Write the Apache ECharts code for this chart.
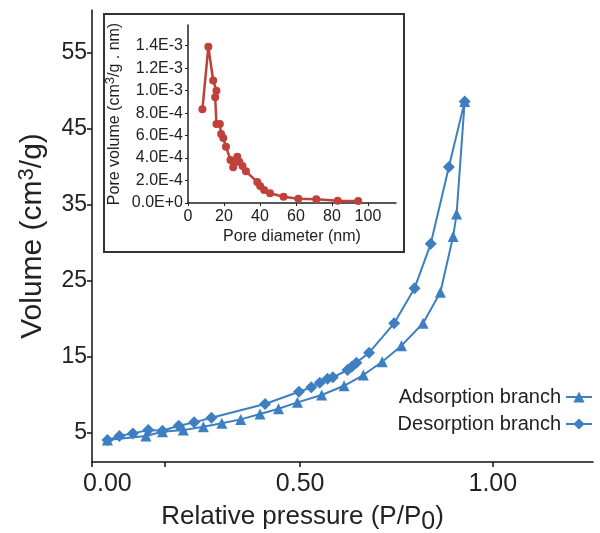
<!DOCTYPE html>
<html>
<head>
<meta charset="utf-8">
<script src="https://cdn.jsdelivr.net/npm/echarts@6/dist/echarts.min.js"></script>
<style>
  html, body { margin: 0; padding: 0; background: #fff; }
  #chart { width: 600px; height: 533px; }
</style>
</head>
<body>
<div id="chart"></div>
<script>
// 吸附/脱附等温线 (P/P0, cm3/g)
var adsPressure = [0.00, 0.100, 0.143, 0.197, 0.249, 0.297, 0.346, 0.396, 0.444, 0.493,
    0.556, 0.614, 0.664, 0.713, 0.763, 0.819, 0.864, 0.897, 0.906, 0.927];
var adsVolume = [4.08, 4.61, 5.17, 5.39, 5.83, 6.28, 6.80, 7.50, 8.20, 9.04,
    10.00, 11.22, 12.63, 14.38, 16.49, 19.43, 23.51, 30.83, 33.78, 48.59];

var desPressure = [0.00, 0.031, 0.066, 0.106, 0.143, 0.185, 0.225, 0.270, 0.409, 0.497,
    0.529, 0.551, 0.571, 0.585, 0.623, 0.634, 0.646, 0.679, 0.744, 0.797, 0.839, 0.886, 0.927];
var desVolume = [4.08, 4.61, 4.96, 5.39, 5.30, 5.96, 6.41, 7.01, 8.82, 10.43,
    11.01, 11.62, 12.14, 12.33, 13.29, 13.72, 14.25, 15.57, 19.43, 24.04, 29.87, 39.97, 48.59];

// 孔径分布 (nm, cm3/g.nm)
var poreDiameter = [8.0, 11.3, 14.0, 15.8, 15.1, 15.8, 17.7, 18.4, 19.6, 21.1, 23.6, 25.1, 26.6,
    27.4, 28.5, 30.3, 32.2, 38.5, 40.1, 42.3, 45.6, 53.1, 61.3, 71.3, 83.2, 94.6];
var poreVolume = [8.34e-4, 13.9e-4, 10.9e-4, 9.99e-4, 9.40e-4, 7.03e-4, 7.03e-4, 6.14e-4, 5.78e-4,
    5.01e-4, 3.83e-4, 3.18e-4, 3.67e-4, 4.12e-4, 3.67e-4, 3.29e-4, 2.82e-4, 1.87e-4, 1.51e-4,
    1.16e-4, 0.86e-4, 0.56e-4, 0.38e-4, 0.33e-4, 0.20e-4, 0.18e-4];

// 刻度
var mainXTicks = [-0.04, 0.15, 0.5, 1.0];
var mainXLabels = [0, 0.5, 1.0];
var mainYTicks = [5, 15, 25, 35, 45, 55];

var blue = '#3d7fc1';
var red = '#c0403b';
var font = 'Liberation Sans, Arial, sans-serif';

function zip(xs, ys) {
    var out = [];
    for (var i = 0; i < xs.length; i++) {
        out.push([xs[i], ys[i]]);
    }
    return out;
}

var chart = echarts.init(document.getElementById('chart'));
var option = {
    animation: false,
    textStyle: { fontFamily: font },
    legend: {
        orient: 'vertical',
        align: 'right',
        right: 2,
        top: 382,
        itemWidth: 26,
        itemHeight: 14,
        itemGap: 7,
        textStyle: { fontSize: 20, color: '#222', fontFamily: font },
        data: ['Adsorption branch', 'Desorption branch']
    },
    graphic: [{
        type: 'rect',
        z: 0,
        shape: { x: 104, y: 14, width: 300, height: 238 },
        style: { fill: '#fff', stroke: '#333', lineWidth: 2 }
    }],
    grid: [
        { left: 92, right: 7, top: 10, bottom: 71, outerBoundsMode: 'none', containLabel: false },
        { left: 188, right: 204, top: 25, bottom: 330, z: 5, outerBoundsMode: 'none', containLabel: false }
    ],
    xAxis: [{
        gridIndex: 0,
        type: 'value',
        min: -0.04,
        max: 1.26,
        splitLine: { show: false },
        axisLine: { onZero: false, lineStyle: { color: '#111', width: 1.5 } },
        axisTick: { length: 5, customValues: mainXTicks, lineStyle: { color: '#111', width: 1.5 } },
        axisLabel: {
            customValues: mainXLabels,
            fontSize: 25, color: '#222', margin: 10,
            formatter: function (v) { return v.toFixed(2); }
        },
        name: 'Relative pressure (P/P{sub|0})',
        nameLocation: 'middle',
        nameGap: 37,
        nameTextStyle: {
            fontSize: 26, color: '#222', padding: [0, 80, 0, 0],
            rich: { sub: { fontSize: 25, color: '#222', padding: [11, 0, 0, 0] } }
        }
    }, {
        gridIndex: 1,
        type: 'value',
        min: 0,
        max: 115.6,
        interval: 20,
        splitLine: { show: false },
        axisLine: { onZero: false, lineStyle: { color: '#222', width: 1.5 } },
        axisTick: { length: 3, lineStyle: { color: '#222' } },
        axisLabel: { fontSize: 16, color: '#222', margin: 6, showMaxLabel: false },
        name: 'Pore diameter (nm)',
        nameLocation: 'middle',
        nameGap: 26,
        nameTextStyle: { fontSize: 16, color: '#222' }
    }],
    yAxis: [{
        gridIndex: 0,
        type: 'value',
        min: 1.2,
        max: 60.6,
        splitLine: { show: false },
        axisLine: { onZero: false, lineStyle: { color: '#111', width: 1.5 } },
        axisTick: { length: 5, customValues: mainYTicks, lineStyle: { color: '#111', width: 1.5 } },
        axisLabel: { customValues: mainYTicks, fontSize: 23, color: '#222', margin: 5 },
        name: 'Volume (cm{sup|3}/g)',
        nameLocation: 'middle',
        nameRotate: 90,
        nameGap: 42,
        nameTextStyle: {
            fontSize: 30, color: '#222',
            rich: { sup: { fontSize: 22, color: '#222', padding: [0, 0, 12, 0] } }
        }
    }, {
        gridIndex: 1,
        type: 'value',
        min: 0,
        max: 1.584e-3,
        interval: 2e-4,
        splitLine: { show: false },
        axisLine: { onZero: false, lineStyle: { color: '#222', width: 1.5 } },
        axisTick: { length: 3, lineStyle: { color: '#222' } },
        axisLabel: {
            fontSize: 16, color: '#222', margin: 5, showMaxLabel: false,
            formatter: function (v) { return v.toExponential(1).toUpperCase(); }
        },
        name: 'Pore volume (cm{sup|3}/g . nm)',
        nameLocation: 'middle',
        nameRotate: 90,
        nameGap: 63,
        nameTextStyle: {
            fontSize: 16, color: '#222',
            rich: { sup: { fontSize: 13, color: '#222', padding: [0, 0, 8, 0] } }
        }
    }],
    series: [{
        name: 'Adsorption branch',
        type: 'line',
        xAxisIndex: 0,
        yAxisIndex: 0,
        data: zip(adsPressure, adsVolume),
        symbol: 'triangle',
        symbolSize: 11,
        color: blue,
        lineStyle: { width: 2, color: blue },
        itemStyle: { color: blue }
    }, {
        name: 'Desorption branch',
        type: 'line',
        xAxisIndex: 0,
        yAxisIndex: 0,
        data: zip(desPressure, desVolume),
        symbol: 'diamond',
        symbolSize: 12,
        color: blue,
        lineStyle: { width: 2, color: blue },
        itemStyle: { color: blue }
    }, {
        name: 'PSD',
        type: 'line',
        xAxisIndex: 1,
        yAxisIndex: 1,
        z: 6,
        data: zip(poreDiameter, poreVolume),
        symbol: 'circle',
        symbolSize: 8,
        lineStyle: { width: 2.5, color: red },
        itemStyle: { color: red }
    }]
};
chart.setOption(option);
</script>
</body>
</html>
